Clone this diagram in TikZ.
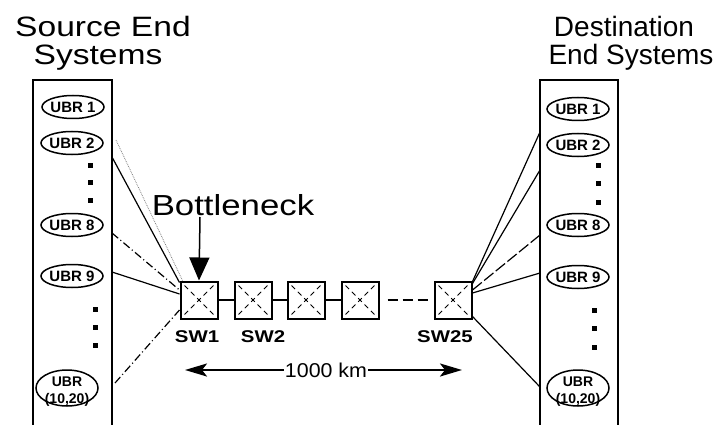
\documentclass[tikz,border=0pt]{standalone}
\usepackage{fontspec}
\usepackage{graphicx}
\setmainfont{Liberation Sans}
\usetikzlibrary{shapes.geometric,arrows.meta,calc}
\newcommand\sx[1]{\scalebox{1.2}[1]{#1}}
\newcommand\titlefont{\fontsize{28}{28}\selectfont}
\newcommand\ubrfont{\fontsize{15}{15}\selectfont\bfseries}
\newcommand\ubrsmall{\fontsize{14}{14}\selectfont\bfseries}
\begin{document}
\begin{tikzpicture}[x=1pt,y=-1pt,
  ubr/.style={draw,ellipse,line width=1.5pt,minimum width=62pt,minimum height=23pt,inner sep=0pt},
  ubrbig/.style={draw,ellipse,line width=1.5pt,minimum width=62pt,minimum height=36pt,inner sep=0pt},
  sw/.style={draw,line width=2pt,minimum size=37pt,inner sep=0pt},
  endbox/.style={line width=2pt},
  conn/.style={line width=1.2pt},
  dotsq/.style={fill=black,minimum size=5pt,inner sep=0pt},
  title/.style={anchor=base,inner sep=0pt},
]
\useasboundingbox (0,0) rectangle (717,425);

% titles
\node[title] (t1) at (103,37) {\sx{\titlefont Source End}};
\node[title] (t2) at (98,65) {\sx{\titlefont Systems}};
\node[title] (t3) at (624,37) {\titlefont Destination};
\node[title] (t4) at (631,65) {\titlefont End Systems};

% end-system boxes (open at bottom)
\coordinate (lb1) at (33,425); \coordinate (lb2) at (33,80);
\coordinate (lb3) at (112,80); \coordinate (lb4) at (112,425);
\draw[endbox] (lb1) -- (lb2) -- (lb3) -- (lb4);
\coordinate (rb1) at (540,425); \coordinate (rb2) at (540,80);
\coordinate (rb3) at (618,80); \coordinate (rb4) at (618,425);
\draw[endbox] (rb1) -- (rb2) -- (rb3) -- (rb4);

% left UBRs
\node[ubr,label={center:\ubrfont UBR 1}] (l1) at (73,107) {};
\node[ubr,label={center:\ubrfont UBR 2}] (l2) at (72,143) {};
\node[ubr,label={center:\ubrfont UBR 8}] (l8) at (72,225) {};
\node[ubr,label={center:\ubrfont UBR 9}] (l9) at (72,276) {};
\node[ubrbig] (l10) at (67,388) {};
\node[anchor=base,inner sep=0pt] (l10a) at (67,386) {\ubrsmall UBR};
\node[anchor=base,inner sep=0pt] (l10b) at (67,403) {\ubrsmall (10,20)};
\node[dotsq] (ld1) at (90,165) {};
\node[dotsq] (ld2) at (90,182) {};
\node[dotsq] (ld3) at (90,200) {};
\node[dotsq] (ld4) at (95,309) {};
\node[dotsq] (ld5) at (95,327) {};
\node[dotsq] (ld6) at (95,345) {};

% right UBRs
\node[ubr,label={center:\ubrfont UBR 1}] (r1) at (578,109) {};
\node[ubr,label={center:\ubrfont UBR 2}] (r2) at (578,145) {};
\node[ubr,label={center:\ubrfont UBR 8}] (r8) at (578,225) {};
\node[ubr,label={center:\ubrfont UBR 9}] (r9) at (578,277) {};
\node[ubrbig] (r10) at (578,388) {};
\node[anchor=base,inner sep=0pt] (r10a) at (578,386) {\ubrsmall UBR};
\node[anchor=base,inner sep=0pt] (r10b) at (578,403) {\ubrsmall (10,20)};
\node[dotsq] (rd1) at (598,165) {};
\node[dotsq] (rd2) at (598,183) {};
\node[dotsq] (rd3) at (598,202) {};
\node[dotsq] (rd4) at (594,310) {};
\node[dotsq] (rd5) at (594,328) {};
\node[dotsq] (rd6) at (594,347) {};

% switches
\foreach \n/\x in {s1/199,s2/253,s3/306,s4/360,s25/453}{
  \node[sw] (\n) at (\x,300) {};
  \draw[line width=1pt,dash pattern=on 5pt off 4pt]
    ($(\n.north west)+(5,5)$) -- ($(\n.south east)+(-5,-5)$);
  \draw[line width=1pt,dash pattern=on 5pt off 4pt]
    ($(\n.south west)+(5,-5)$) -- ($(\n.north east)+(-5,5)$);
}
\node[anchor=base,inner sep=0pt] (sl1) at (197,342) {\sx{\fontsize{17}{17}\selectfont\bfseries SW1}};
\node[anchor=base,inner sep=0pt] (sl2) at (263,342) {\sx{\fontsize{17}{17}\selectfont\bfseries SW2}};
\node[anchor=base,inner sep=0pt] (sl25) at (445,342) {\sx{\fontsize{17}{17}\selectfont\bfseries SW25}};

% links between switches
\draw[line width=2.2pt] (s1) -- (s2);
\draw[line width=1.6pt] (s2) -- (s3);
\draw[line width=1.6pt] (s3) -- (s4);
\draw[line width=2.5pt,dash pattern=on 10pt off 5pt] ($(s4.east)+(8,0)$) -- ($(s25.west)+(-6,0)$);

% bottleneck
\node[anchor=base,inner sep=0pt] (bn) at (233,215) {\sx{\fontsize{29}{29}\selectfont Bottleneck}};
\coordinate (bna) at (200,217);
\draw[line width=1.5pt,-{Triangle[length=23pt,width=20pt]}] (bna) -- (s1.north);

% 1000 km
\node[anchor=base,inner sep=1pt] (km) at (326,377) {\scalebox{1.07}[1]{\fontsize{20}{20}\selectfont 1000 km}};
\coordinate (kmL) at (185,370);
\coordinate (kmR) at (462,370);
\draw[line width=2.4pt,-{Stealth[length=22pt,width=13pt,inset=5pt]}] (km.west|-kmL) -- (kmL);
\draw[line width=2.4pt,-{Stealth[length=22pt,width=13pt,inset=5pt]}] (km.east|-kmR) -- (kmR);

% left connectors
\coordinate (lc0) at (116,140);
\coordinate (lc1) at (112,157);
\coordinate (lc2) at (112,233);
\coordinate (lc3) at (112,272);
\coordinate (lc4) at (115,383);
\draw[densely dotted,gray,line width=0.8pt] (lc0) -- ($(s1.north west)+(3,0)$);
\draw[conn] (lc1) -- ($(s1.north west)+(0,2)$);
\draw[conn,dash pattern=on 8pt off 3pt on 1pt off 3pt] (lc2) -- ($(s1.west)+(0,-10)$);
\draw[conn] (lc3) -- ($(s1.west)+(0,-6)$);
\draw[conn,dash pattern=on 8pt off 3pt on 1pt off 3pt] (lc4) -- ($(s1.west)+(0,10)$);

% right connectors
\coordinate (rc1) at (540,132);
\coordinate (rc2) at (540,170);
\coordinate (rc3) at (540,235);
\coordinate (rc4) at (540,273);
\coordinate (rc5) at (540,387);
\draw[conn] ($(s25.north east)+(0,1)$) -- (rc1);
\draw[conn] ($(s25.north east)+(0,3)$) -- (rc2);
\draw[conn,dash pattern=on 12pt off 3pt] ($(s25.east)+(0,-10)$) -- (rc3);
\draw[conn] ($(s25.east)+(0,-7)$) -- (rc4);
\draw[conn] ($(s25.south east)+(0,-3)$) -- (rc5);
\end{tikzpicture}
\end{document}
